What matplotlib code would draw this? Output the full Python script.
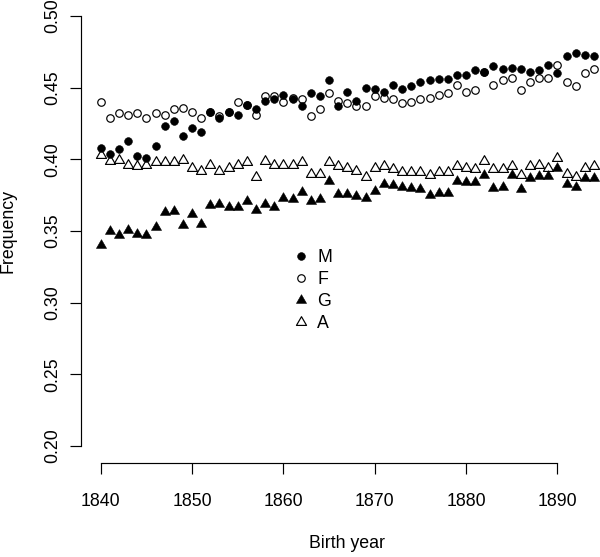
import numpy as np
import matplotlib.pyplot as plt
from matplotlib.path import Path

plt.rcParams['font.family'] = ['Liberation Sans', 'DejaVu Sans']

# base frequencies by birth year
years = np.arange(1840, 1895)

freq_m = [0.408, 0.404, 0.407, 0.413, 0.402, 0.401, 0.409, 0.423, 0.427, 0.416,
          0.422, 0.419, 0.433, 0.429, 0.433, 0.431, 0.438, 0.435, 0.441, 0.442,
          0.445, 0.442, 0.437, 0.446, 0.444, 0.455, 0.437, 0.447, 0.441, 0.450,
          0.449, 0.447, 0.452, 0.449, 0.451, 0.454, 0.455, 0.456, 0.456, 0.459,
          0.459, 0.462, 0.461, 0.465, 0.463, 0.464, 0.463, 0.461, 0.462, 0.466,
          0.460, 0.472, 0.474, 0.473, 0.472]

freq_f = [0.440, 0.429, 0.432, 0.431, 0.432, 0.429, 0.432, 0.431, 0.435, 0.436,
          0.433, 0.429, 0.433, 0.430, 0.433, 0.440, 0.438, 0.431, 0.444, 0.444,
          0.440, 0.443, 0.442, 0.430, 0.435, 0.446, 0.441, 0.439, 0.437, 0.437,
          0.444, 0.443, 0.442, 0.439, 0.440, 0.442, 0.443, 0.445, 0.446, 0.452,
          0.447, 0.448, 0.461, 0.452, 0.455, 0.457, 0.448, 0.454, 0.457, 0.457,
          0.466, 0.454, 0.451, 0.460, 0.463]

freq_g = [0.340, 0.350, 0.347, 0.351, 0.348, 0.347, 0.353, 0.3635, 0.364, 0.3545,
          0.362, 0.355, 0.368, 0.369, 0.3665, 0.367, 0.371, 0.3646, 0.369, 0.367,
          0.373, 0.372, 0.377, 0.371, 0.372, 0.385, 0.3755, 0.3758, 0.3744, 0.3728,
          0.378, 0.383, 0.382, 0.381, 0.380, 0.379, 0.375, 0.3767, 0.3763, 0.385,
          0.3844, 0.3844, 0.389, 0.380, 0.381, 0.389, 0.379, 0.387, 0.3886, 0.3886,
          0.3937, 0.383, 0.381, 0.387, 0.387]

freq_a = [0.403, 0.399, 0.3995, 0.396, 0.395, 0.396, 0.398, 0.398, 0.398, 0.3995,
          0.394, 0.392, 0.396, 0.392, 0.394, 0.396, 0.398, 0.3875, 0.399, 0.396,
          0.396, 0.396, 0.398, 0.390, 0.390, 0.398, 0.395, 0.394, 0.392, 0.388,
          0.394, 0.395, 0.393, 0.391, 0.391, 0.391, 0.389, 0.391, 0.391, 0.395,
          0.394, 0.393, 0.399, 0.393, 0.393, 0.395, 0.389, 0.395, 0.396, 0.394,
          0.401, 0.390, 0.388, 0.394, 0.395]

W, H = 600, 557
fig = plt.figure(figsize=(W / 100, H / 100), dpi=100)
ax = fig.add_axes([81 / W, 1 - 463.3 / H, 532.7 / W, 464.6 / H])

# R-style triangle, centred on its centroid
tri = Path([(0, 1), (-0.866, -0.5), (0.866, -0.5), (0, 1)], closed=True)
ax.plot(years, freq_m, ls='none', marker='o', ms=5.6, mfc='black', mec='black', mew=0.4, label='M')
ax.plot(years, freq_f, ls='none', marker='o', ms=5.4, mfc='none', mec='black', mew=0.85, label='F')
ax.plot(years, freq_g, ls='none', marker=tri, ms=8.4, mfc='black', mec='black', mew=0.4, label='G')
ax.plot(years, freq_a, ls='none', marker=tri, ms=8.4, mfc='none', mec='black', mew=0.85, label='A')

ax.set_xlim(1837.84, 1896.16)
ax.set_ylim(0.188, 0.512)

for side in ['top', 'right']:
    ax.spines[side].set_visible(False)
for side in ['left', 'bottom']:
    ax.spines[side].set_linewidth(0.85)
ax.spines['left'].set_bounds(0.20, 0.50)
ax.spines['bottom'].set_bounds(1840, 1890)

xt = list(range(1840, 1891, 10))
yt = [0.20, 0.25, 0.30, 0.35, 0.40, 0.45, 0.50]
ax.set_xticks(xt)
ax.set_xticklabels([str(v) for v in xt])
ax.set_yticks(yt)
ax.set_yticklabels(['%.2f' % v for v in yt], rotation=90, va='center')
ax.tick_params(direction='out', length=8, width=0.85, labelsize=12.8)
ax.tick_params(axis='x', pad=13.2)
ax.tick_params(axis='y', pad=6.3)

fig.text(347 / W, 1 - 544 / H, 'Birth year', ha='center', va='center', fontsize=12.8)
fig.text(8 / W, 1 - 231 / H, 'Frequency', ha='center', va='center', rotation=90, fontsize=12.8)

ax.legend(loc='upper left', bbox_to_anchor=(291.8 / W, 1 - 248.8 / H),
          bbox_transform=fig.transFigure, frameon=False, fontsize=12.8,
          handlelength=1.0, handletextpad=0.42, labelspacing=0.28,
          borderpad=0, borderaxespad=0, numpoints=1)

fig.savefig('out.png', dpi=100)
